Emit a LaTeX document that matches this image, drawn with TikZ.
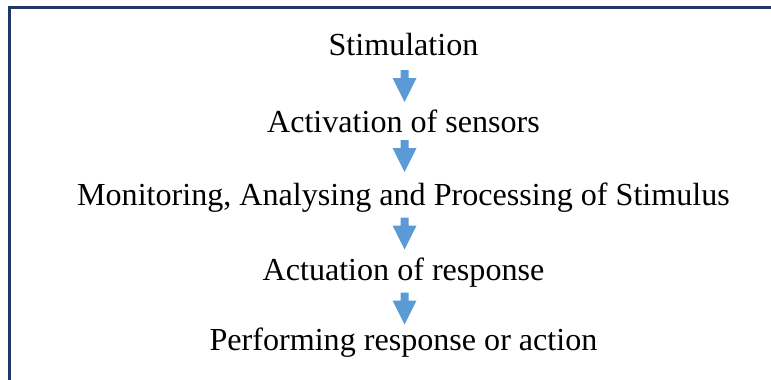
\documentclass[tikz,border=0pt]{standalone}
\usepackage{fontspec}
\setmainfont{Liberation Serif}
\definecolor{framecol}{HTML}{203864}
\definecolor{arrowcol}{HTML}{5B9BD5}
\tikzset{
  steptext/.style={anchor=base, inner sep=0pt, font=\fontsize{32.1}{36}\selectfont, text=black},
  blockarrow/.style={fill=arrowcol, draw=none},
}
\newcommand{\blkarrow}[2]{% #1 = top y, #2 = name
  \fill[blockarrow] (400.5,-#1) -- (408.5,-#1) -- (408.5,-#1-8) -- (416.5,-#1-8)
    -- (404.5,-#1-32) -- (392.5,-#1-8) -- (400.5,-#1-8) -- cycle;
  \coordinate (#2) at (404.5,-#1);
}
\begin{document}
\begin{tikzpicture}[x=1pt,y=1pt]
\useasboundingbox (0,0) rectangle (771,-380);
\fill[white] (0,0) rectangle (771,-380);
\draw[framecol, line width=3.2pt] (9.8,-380) -- (9.8,-7.6) -- (771,-7.6);
\node[steptext] (s1) at (403.5,-55) {Stimulation};
\node[steptext] (s2) at (403.5,-132.5) {Activation of sensors};
\node[steptext] (s3) at (403.5,-205.5) {Monitoring, Analysing and Processing of Stimulus};
\node[steptext] (s4) at (403.5,-280) {Actuation of response};
\node[steptext] (s5) at (403.5,-350.5) {Performing response or action};
\blkarrow{70}{a1}
\blkarrow{140}{a2}
\blkarrow{217.5}{a3}
\blkarrow{292.5}{a4}
\end{tikzpicture}
\end{document}
